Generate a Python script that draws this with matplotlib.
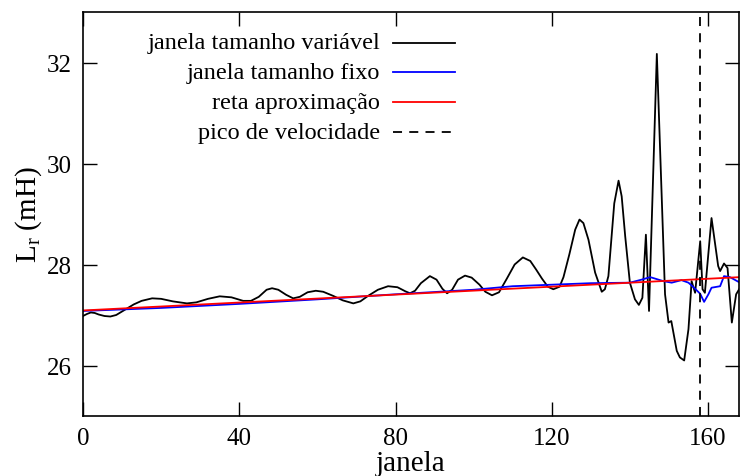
import matplotlib
matplotlib.use("Agg")
import matplotlib.pyplot as plt
from matplotlib.lines import Line2D

# janela tamanho variavel (preto)
x_var = [0, 1, 2, 3, 4, 5.5, 7, 8.5, 10, 11.5, 13, 15, 17.7, 20, 23, 26.6, 29, 32, 35, 38, 41,
         43, 45, 47, 48.4, 50, 52, 53.8, 55.5, 57.5, 59.6, 61.5, 64, 66.5, 69.2, 71, 73, 75.5,
         78.1, 80.5, 82.5, 83.7, 85, 86.5, 88.8, 90.5, 92, 93.2, 94.5, 96, 97.8, 99.5, 101.5,
         103, 104.7, 106.5, 108.5, 110.5, 112.6, 114.5, 116, 117.5, 119, 120.4, 122, 123, 124.5,
         126, 127.1, 128.1, 129.4, 131.1, 132.8, 133.6, 134.5, 136, 137.1, 137.9, 138.8, 140,
         141.3, 142.3, 143.2, 144.1, 144.9, 146.9, 149, 149.9, 150.6, 152, 152.8, 153.9, 155,
         155.8, 156.7, 158, 158.6, 159.2, 160.9, 162.6, 163.1, 164.1, 165, 166.1, 167.2, 168.2]
y_var = [26.98, 27.02, 27.05, 27.04, 27.01, 26.98, 26.97, 27.0, 27.07, 27.14, 27.21, 27.28, 27.33,
         27.32, 27.27, 27.23, 27.25, 27.32, 27.37, 27.35, 27.28, 27.28, 27.36, 27.5, 27.53, 27.5,
         27.4, 27.33, 27.36, 27.45, 27.48, 27.46, 27.38, 27.29, 27.23, 27.27, 27.38, 27.5, 27.57,
         27.55, 27.47, 27.43, 27.48, 27.63, 27.77, 27.7, 27.52, 27.43, 27.5, 27.7, 27.78, 27.74,
         27.6, 27.46, 27.39, 27.45, 27.72, 28.0, 28.14, 28.07, 27.9, 27.72, 27.56, 27.51, 27.56,
         27.75, 28.2, 28.69, 28.89, 28.82, 28.49, 27.84, 27.46, 27.51, 27.77, 29.21, 29.66, 29.35,
         28.56, 27.64, 27.31, 27.2, 27.34, 28.59, 27.08, 32.17, 27.41, 26.85, 26.88, 26.29, 26.16,
         26.1, 26.72, 27.67, 27.44, 28.46, 27.51, 27.44, 28.92, 27.97, 27.87, 28.02, 27.93, 26.85,
         27.41, 27.54]

# janela tamanho fixo (azul)
x_fixo = [0, 20, 40, 60, 80, 100, 110, 120, 130, 140, 143, 145.2, 148.6, 150.7, 153.2, 155,
          156.7, 158, 159, 160.1, 160.9, 163.1, 164.1, 165.6, 168.2]
y_fixo = [27.08, 27.14, 27.22, 27.31, 27.41, 27.5, 27.57, 27.6, 27.63, 27.64, 27.7, 27.75, 27.67,
          27.64, 27.69, 27.64, 27.52, 27.42, 27.26, 27.41, 27.54, 27.57, 27.77, 27.75, 27.64]

# reta aproximacao (vermelho)
x_reta = [0, 168.2]
y_reta = [27.09, 27.75]

pico = 158

plt.rcParams['font.family'] = ['Liberation Serif', 'DejaVu Serif']
plt.rcParams['mathtext.fontset'] = 'custom'
plt.rcParams['mathtext.rm'] = 'Liberation Serif'

W, H = 740, 477
fig = plt.figure(figsize=(W/100, H/100), dpi=100)
ax = fig.add_axes([83/W, 1-417/H, 1-83/W-0.001, (417-13)/H])

linhas = []
linhas.append(ax.plot(x_var, y_var, color='black', lw=1.3, label='janela tamanho variável')[0])
linhas.append(ax.plot(x_fixo, y_fixo, color='blue', lw=1.3, label='janela tamanho fixo')[0])
linhas.append(ax.plot(x_reta, y_reta, color='red', lw=1.3, label='reta aproximação')[0])
linhas.append(ax.axvline(pico, color='black', lw=1.3, dashes=(5, 4), label='pico de velocidade'))

ax.set_xlim(0, 168)
ax.set_ylim(25, 33)
ax.set_xticks([0, 40, 80, 120, 160])
ax.set_yticks([26, 28, 30, 32])
ax.tick_params(direction='in', length=10, width=1, top=True, right=True, labelsize=18, pad=8)
for s in ax.spines.values():
    s.set_linewidth(1.2)

ax.set_xlabel('janela', fontsize=21, labelpad=1)
ax.set_ylabel(r'L$_{\mathrm{r}}$ (mH)', fontsize=21, labelpad=2)

# legenda estilo gnuplot: texto alinhado a direita, linha depois
linhas_y = [44, 73, 103, 133]
for ln, py in zip(linhas, linhas_y):
    yf = 1 - py/H
    fig.text(380/W, yf, ln.get_label(), ha='right', va='center', fontsize=17.5)
    h = Line2D([393/W, 455/W], [yf, yf], transform=fig.transFigure, color=ln.get_color(),
               lw=ln.get_linewidth())
    if ln.get_label() == 'pico de velocidade':
        h.set_dashes((5, 4))
    fig.add_artist(h)

fig.savefig('out.png', dpi=100)
